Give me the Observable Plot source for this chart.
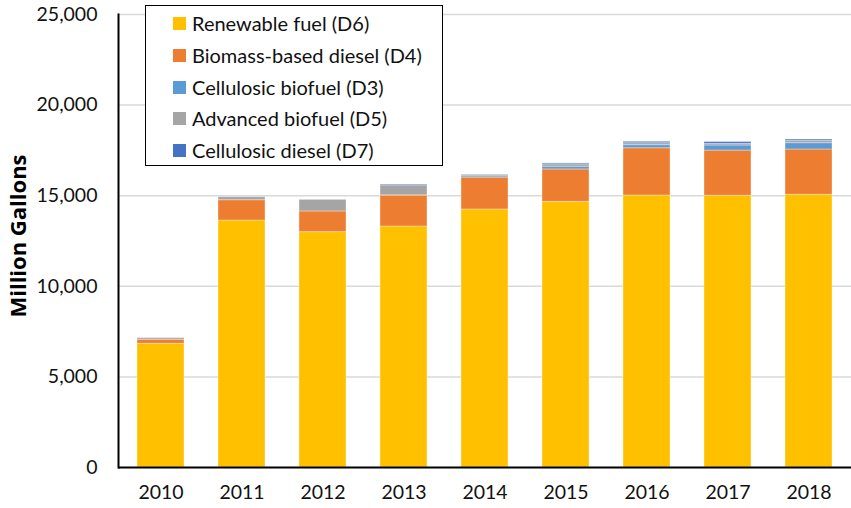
<!DOCTYPE html>
<html>
<head>
<meta charset="utf-8">
<script src="https://cdn.jsdelivr.net/npm/d3@7"></script>
<script src="https://cdn.jsdelivr.net/npm/@observablehq/plot@0.6"></script>
<style>
  html, body { margin: 0; padding: 0; background: #fff; }
  #wrap { position: relative; width: 851px; height: 508px; font-family: Lato, "Open Sans", sans-serif; }
  #legend { position: absolute; left: 145px; top: 5px; width: 296px; height: 159px; border: 1.5px solid #000; background: #fff; box-sizing: content-box; }
  .item { position: absolute; left: 27px; height: 24px; display: flex; align-items: center; font-size: 20px; color: #111; white-space: nowrap; }
  .sw { width: 13px; height: 13px; margin-right: 6px; flex: none; }
</style>
</head>
<body>
<div id="wrap"></div>
<script>
const years = ["2010","2011","2012","2013","2014","2015","2016","2017","2018"];
const seriesNames = ["Renewable fuel (D6)","Biomass-based diesel (D4)","Cellulosic biofuel (D3)","Advanced biofuel (D5)","Cellulosic diesel (D7)"];
const seriesColors = ["#FFC000","#ED7D31","#5B9BD5","#A5A5A5","#4472C4"];
const valD6 = [6830, 13630, 12990, 13300, 14240, 14660, 15010, 15000, 15050];
const valD4 = [220, 1120, 1140, 1710, 1760, 1790, 2610, 2490, 2500];
const valD3 = [0, 0, 0, 10, 70, 150, 170, 280, 350];
const valD5 = [90, 170, 640, 550, 70, 130, 110, 90, 130];
const valD7 = [0, 0, 0, 40, 20, 50, 75, 100, 70];
const yTicks = [0, 5000, 10000, 15000, 20000, 25000];

const seriesValues = [valD6, valD4, valD3, valD5, valD7];
const data = [];
seriesNames.forEach((s, i) => years.forEach((y, j) => data.push({year: y, series: s, value: seriesValues[i][j]})));

const chart = Plot.plot({
  width: 851,
  height: 508,
  marginLeft: 118,
  marginRight: 0,
  marginTop: 14,
  marginBottom: 41,
  style: {fontFamily: "Lato, 'Open Sans', sans-serif", fontSize: "19.5px", color: "#111", background: "#fff"},
  x: {domain: years, paddingInner: 0.42, paddingOuter: 0.21, label: null},
  y: {domain: [0, 25000], label: null},
  color: {domain: seriesNames, range: seriesColors},
  marks: [
    Plot.gridY(yTicks, {stroke: "#d9d9d9", strokeOpacity: 1, strokeWidth: 1.5}),
    Plot.barY(data, {x: "year", y: "value", fill: "series", order: seriesNames, stroke: "#fff", strokeOpacity: 0.35, strokeWidth: 1}),
    Plot.axisY(yTicks, {tickSize: 0, tickPadding: 21, tickFormat: d3.format(","), fontSize: 19.5, label: null}),
    Plot.axisX({tickSize: 0, tickPadding: 18, fontSize: 19.5, label: null}),
    Plot.text(["Million Gallons"], {frameAnchor: "left", textAnchor: "middle", dx: -100, dy: -5, rotate: -90, fontWeight: "bold", fontSize: 22, fontFamily: "'Open Sans', sans-serif", fill: "#000"}),
    Plot.ruleY([0], {stroke: "#000", strokeWidth: 2}),
    Plot.frame({anchor: "left", stroke: "#000", strokeWidth: 2})
  ]
});

const wrap = document.getElementById("wrap");
wrap.appendChild(chart);
const legend = document.createElement("div");
legend.id = "legend";
const rowCenters = [17, 49, 81, 112, 144];
seriesNames.forEach((s, i) => {
  const it = document.createElement("div");
  it.className = "item";
  it.style.top = (rowCenters[i] - 12) + "px";
  it.innerHTML = `<span class="sw" style="background:${seriesColors[i]}"></span><span>${s}</span>`;
  legend.appendChild(it);
});
wrap.appendChild(legend);
</script>
</body>
</html>
